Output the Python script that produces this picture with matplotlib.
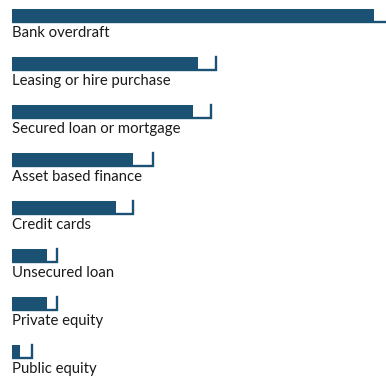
import matplotlib.pyplot as plt

# share of firms using each finance type (%)
categories = ["Bank overdraft", "Leasing or hire purchase", "Secured loan or mortgage",
              "Asset based finance", "Credit cards", "Unsecured loan",
              "Private equity", "Public equity"]
current = [60.0, 30.8, 30.0, 20.0, 17.2, 5.8, 5.8, 1.3]
previous = [64.0, 33.8, 33.0, 23.4, 20.0, 7.5, 7.5, 3.3]

navy = "#1b5173"
bar_h = 0.28

fig = plt.figure(figsize=(3.86, 3.76), dpi=100)
ax = fig.add_axes([12 / 386, 0, 374 / 386, 1])

for i, (cur, prev) in enumerate(zip(current, previous)):
    top = i - bar_h / 2
    bottom = i + bar_h / 2
    # outline for the earlier figure: bottom and right edges only
    ax.plot([0, prev, prev], [bottom, bottom, top], color=navy, lw=1.7,
            solid_joinstyle="miter", zorder=1)
    ax.barh(i, cur, height=bar_h, color=navy, zorder=2)
    ax.text(0, i + 0.35, categories[i], fontsize=10.7, family="Lato",
            color="#1a1a1a", va="center", ha="left")

ax.set_xlim(0, 62)
ax.set_ylim(7.505, -0.328)
ax.axis("off")

fig.savefig("out.png", dpi=100)
